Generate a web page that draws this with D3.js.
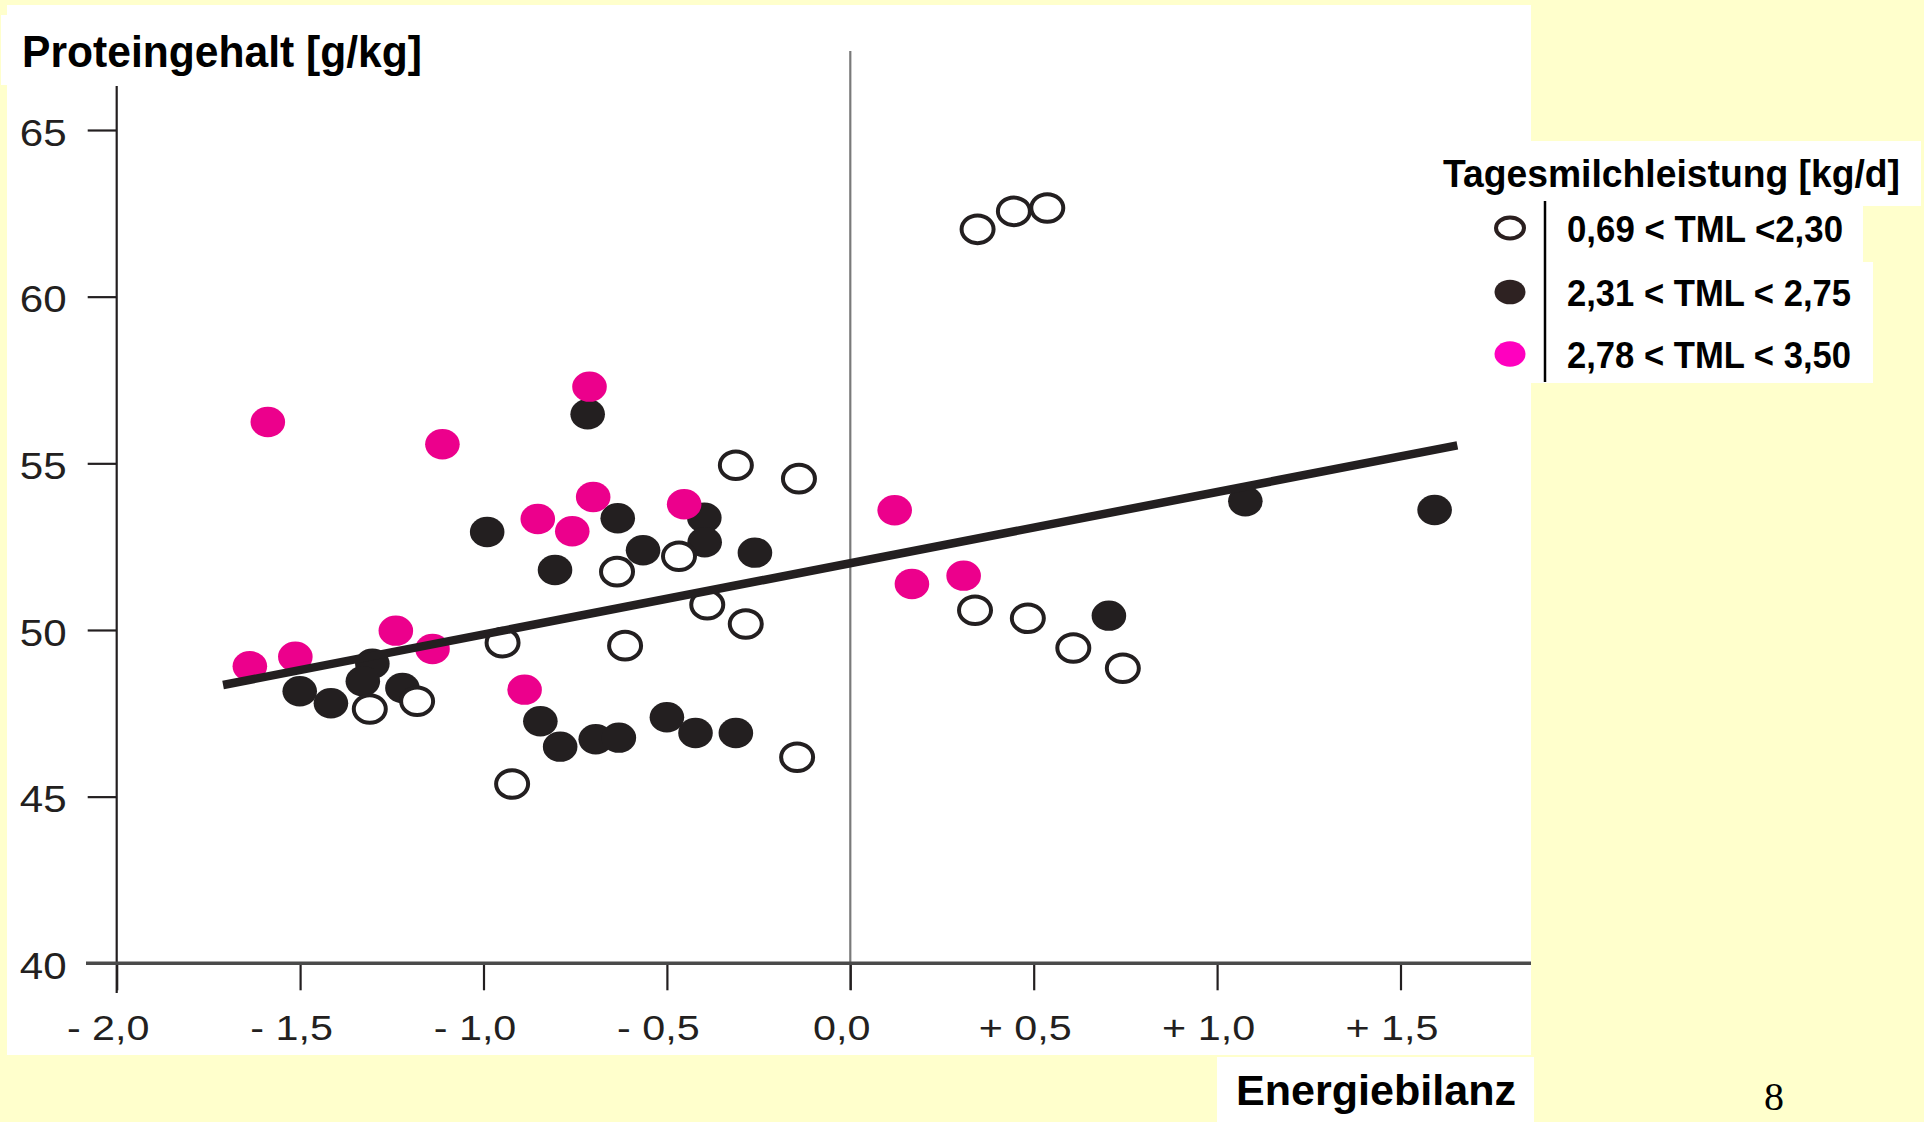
<!DOCTYPE html>
<html>
<head>
<meta charset="utf-8">
<script src="https://cdn.jsdelivr.net/npm/d3@7"></script>
<style>
  html, body { margin: 0; padding: 0; background: #ffffcc; }
  svg { display: block; }
</style>
</head>
<body>
<script>
// ---------- data ----------
const xTickValues = [-2, -1.5, -1, -0.5, 0, 0.5, 1, 1.5];
const xTickLabels = ["- 2,0", "- 1,5", "- 1,0", "- 0,5", "0,0", "+ 0,5", "+ 1,0", "+ 1,5"];
const yTickValues = [40, 45, 50, 55, 60, 65];
const yTickLabels = ["40", "45", "50", "55", "60", "65"];

const yTitle = "Proteingehalt [g/kg]";
const xTitle = "Energiebilanz";
const legendTitle = "Tagesmilchleistung [kg/d]";
const seriesNames = ["0,69 < TML <2,30", "2,31 < TML < 2,75", "2,78 < TML < 3,50"];
const pageNumber = "8";

// series 1: 0,69 < TML < 2,30 (open circles)  [Energiebilanz, Protein]
const lowTML = [
  [0.347, 62.02], [0.446, 62.56], [0.537, 62.66],
  [-0.312, 54.94], [-0.140, 54.54],
  [-0.636, 51.75], [-0.467, 52.21], [-0.390, 50.76], [-0.285, 50.18],
  [-0.948, 49.62], [-0.614, 49.53],
  [-1.310, 47.63], [-1.181, 47.86], [-0.922, 45.38], [-0.145, 46.18],
  [0.340, 50.59], [0.484, 50.35], [0.608, 49.46], [0.743, 48.85]
];
// series 2: 2,31 < TML < 2,75 (black dots)
const midTML = [
  [-0.716, 56.47], [-0.990, 52.94], [-0.805, 51.80], [-0.634, 53.35],
  [-0.398, 53.37], [-0.565, 52.39], [-0.397, 52.63], [-0.260, 52.32],
  [1.077, 53.86], [1.593, 53.60], [0.705, 50.43],
  [-1.303, 48.99], [-1.329, 48.46], [-1.501, 48.16], [-1.416, 47.80],
  [-1.221, 48.26], [-0.845, 47.26], [-0.791, 46.50], [-0.694, 46.72],
  [-0.631, 46.77], [-0.500, 47.38], [-0.422, 46.91], [-0.312, 46.91]
];
// series 3: 2,78 < TML < 3,50 (magenta dots)
const highTML = [
  [-1.588, 56.24], [-1.112, 55.57], [-0.711, 57.30], [-0.852, 53.33],
  [-0.758, 52.96], [-0.701, 53.99], [-0.453, 53.77], [0.121, 53.59],
  [0.168, 51.38], [0.309, 51.63], [-1.637, 48.91], [-1.513, 49.20],
  [-1.239, 49.98], [-1.139, 49.43], [-0.888, 48.21]
];
// regression line end points
const regression = [[-1.71, 48.35], [1.655, 55.54]];

// ---------- layout ----------
const W = 1924, H = 1122;
const ink = "#231f20";
const pink = "#ec008c";
const font = "'Liberation Sans', Arial, Helvetica, sans-serif";

const svg = d3.select("body").append("svg")
  .attr("width", W).attr("height", H)
  .style("font-family", font);

svg.append("rect").attr("width", W).attr("height", H).attr("fill", "#ffffcc");

// white panels
const panels = [
  [7, 5, 1524, 1050],      // main chart panel
  [1, 15, 430, 70],        // y title box
  [1530, 141, 391, 65],    // legend title
  [1530, 206, 333, 56],    // legend row 1
  [1530, 262, 343, 121],   // legend rows 2-3
  [1217, 1057, 317, 65]    // x title box
];
svg.selectAll("rect.panel").data(panels).enter().append("rect")
  .attr("class", "panel")
  .attr("x", d => d[0]).attr("y", d => d[1])
  .attr("width", d => d[2]).attr("height", d => d[3])
  .attr("fill", "#ffffff");

const x = d3.scaleLinear().domain([-2, 1.5]).range([116.7, 1400.5]);
const y = d3.scaleLinear().domain([40, 65]).range([963.3, 130]);

function stretch(sel, f) {
  sel.each(function () {
    const w = this.getComputedTextLength();
    this.setAttribute("textLength", w * f);
    this.setAttribute("lengthAdjust", "spacingAndGlyphs");
  });
}

// zero line
svg.append("line")
  .attr("x1", x(0)).attr("x2", x(0))
  .attr("y1", 51).attr("y2", 990)
  .attr("stroke", "#7a7a7a").attr("stroke-width", 2.2);

// y axis
const yAxis = svg.append("g")
  .attr("transform", `translate(${x(-2)},0)`)
  .call(d3.axisLeft(y).tickValues(yTickValues)
    .tickFormat((d, i) => yTickLabels[i]).tickSize(29).tickPadding(21));
yAxis.select(".domain").remove();
yAxis.selectAll(".tick line").attr("stroke", ink).attr("stroke-width", 2.2);
yAxis.selectAll(".tick text")
  .attr("fill", ink).attr("font-size", 36).attr("font-family", font)
  .attr("dy", "0.42em");
stretch(yAxis.selectAll(".tick text"), 1.17);
svg.append("line")
  .attr("x1", x(-2)).attr("x2", x(-2))
  .attr("y1", 86).attr("y2", 993)
  .attr("stroke", ink).attr("stroke-width", 2.2);

// x axis
const xAxis = svg.append("g")
  .attr("transform", `translate(0,${y(40)})`)
  .call(d3.axisBottom(x).tickValues(xTickValues)
    .tickFormat((d, i) => xTickLabels[i]).tickSize(27));
xAxis.select(".domain").remove();
xAxis.selectAll(".tick line").attr("stroke", ink).attr("stroke-width", 2.2);
xAxis.selectAll(".tick text")
  .attr("fill", ink).attr("font-size", 35).attr("font-family", font)
  .attr("y", 77).attr("dy", 0).attr("dx", -9);
stretch(xAxis.selectAll(".tick text"), 1.18);
svg.append("line")
  .attr("x1", 86).attr("x2", 1531)
  .attr("y1", y(40)).attr("y2", y(40))
  .attr("stroke", "#4a4a4a").attr("stroke-width", 3.5);

// points
const plot = svg.append("g");
plot.selectAll("ellipse.mid").data(midTML).enter().append("ellipse")
  .attr("class", "mid")
  .attr("cx", d => x(d[0])).attr("cy", d => y(d[1]))
  .attr("rx", 17.3).attr("ry", 15.2)
  .attr("fill", ink);
plot.selectAll("ellipse.low").data(lowTML).enter().append("ellipse")
  .attr("class", "low")
  .attr("cx", d => x(d[0])).attr("cy", d => y(d[1]))
  .attr("rx", 16).attr("ry", 13.8)
  .attr("fill", "#ffffff").attr("stroke", ink).attr("stroke-width", 4);
plot.selectAll("ellipse.high").data(highTML).enter().append("ellipse")
  .attr("class", "high")
  .attr("cx", d => x(d[0])).attr("cy", d => y(d[1]))
  .attr("rx", 17.3).attr("ry", 15.2)
  .attr("fill", pink);

// regression line
svg.append("path")
  .datum(regression)
  .attr("d", d3.line().x(d => x(d[0])).y(d => y(d[1])))
  .attr("stroke", ink).attr("stroke-width", 8.5).attr("fill", "none");

// titles
svg.append("text").text(yTitle)
  .attr("x", 22).attr("y", 67)
  .attr("font-size", 44).attr("font-weight", "bold").attr("fill", "#000")
  .attr("textLength", 400).attr("lengthAdjust", "spacingAndGlyphs");
svg.append("text").text(xTitle)
  .attr("x", 1236).attr("y", 1105)
  .attr("font-size", 42).attr("font-weight", "bold").attr("fill", "#000")
  .attr("textLength", 280).attr("lengthAdjust", "spacingAndGlyphs");

// legend
svg.append("text").text(legendTitle)
  .attr("x", 1443).attr("y", 187)
  .attr("font-size", 38).attr("font-weight", "bold").attr("fill", "#000")
  .attr("textLength", 457).attr("lengthAdjust", "spacingAndGlyphs");
svg.append("line")
  .attr("x1", 1545).attr("x2", 1545).attr("y1", 201).attr("y2", 382)
  .attr("stroke", "#000").attr("stroke-width", 2.5);

const legendRowY = [228, 292, 354];
const legendTextLen = [276, 284, 284];
const legendStyles = [
  { fill: "#ffffff", stroke: "#2a1f1f", sw: 4, rx: 14, ry: 10.5 },
  { fill: "#2e2222", stroke: "none", sw: 0, rx: 15.5, ry: 12.3 },
  { fill: "#ff00bf", stroke: "none", sw: 0, rx: 15.5, ry: 12.8 }
];
const lg = svg.append("g").selectAll("g").data(seriesNames).enter().append("g")
  .attr("transform", (d, i) => `translate(0,${legendRowY[i]})`);
lg.append("ellipse")
  .attr("cx", 1510).attr("cy", 0)
  .attr("rx", (d, i) => legendStyles[i].rx).attr("ry", (d, i) => legendStyles[i].ry)
  .attr("fill", (d, i) => legendStyles[i].fill)
  .attr("stroke", (d, i) => legendStyles[i].stroke)
  .attr("stroke-width", (d, i) => legendStyles[i].sw);
lg.append("text").text(d => d)
  .attr("x", 1567).attr("y", 14)
  .attr("font-size", 36).attr("font-weight", "bold").attr("fill", "#000")
  .attr("textLength", (d, i) => legendTextLen[i]).attr("lengthAdjust", "spacingAndGlyphs");

// page number
svg.append("text").text(pageNumber)
  .attr("x", 1774).attr("y", 1110).attr("text-anchor", "middle")
  .attr("font-family", "'Liberation Serif', 'Times New Roman', serif")
  .attr("font-size", 40).attr("fill", "#000");
</script>
</body>
</html>
